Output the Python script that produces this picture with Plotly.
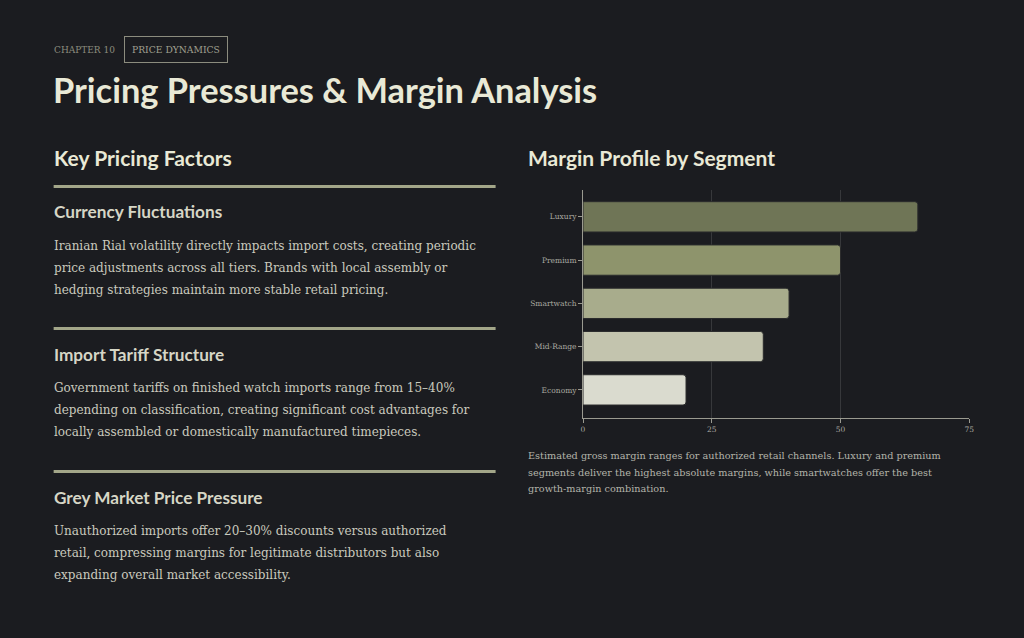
import plotly.graph_objects as go

# chart data
segments = ["Luxury", "Premium", "Smartwatch", "Mid-Range", "Economy"]
margins = [65, 50, 40, 35, 20]
bar_colors = ["#6f7556", "#8e946c", "#a8ac8c", "#c3c4ae", "#dadbcf"]
x_ticks = [0, 25, 50, 75]

# page text
chapter = "CHAPTER 10"
tag = "PRICE DYNAMICS"
title = "Pricing Pressures & Margin Analysis"
left_heading = "Key Pricing Factors"
right_heading = "Margin Profile by Segment"
factor_titles = ["Currency Fluctuations", "Import Tariff Structure", "Grey Market Price Pressure"]
factor_lines = [
    ["Iranian Rial volatility directly impacts import costs, creating periodic",
     "price adjustments across all tiers. Brands with local assembly or",
     "hedging strategies maintain more stable retail pricing."],
    ["Government tariffs on finished watch imports range from 15\u201340%",
     "depending on classification, creating significant cost advantages for",
     "locally assembled or domestically manufactured timepieces."],
    ["Unauthorized imports offer 20\u201330% discounts versus authorized",
     "retail, compressing margins for legitimate distributors but also",
     "expanding overall market accessibility."],
]
caption_lines = [
    "Estimated gross margin ranges for authorized retail channels. Luxury and premium",
    "segments deliver the highest absolute margins, while smartwatches offer the best",
    "growth-margin combination.",
]

W, H = 1024, 638
BG = "#1b1c20"
CREAM = "#e9e9d6"
SANS = "Lato"
SERIF = "DejaVu Serif"
LEFT = 50  # left text edge (annotation pad included)


def py(px):
    # pixel from top -> paper y
    return 1 - px / H


def px_x(px):
    return px / W


fig = go.Figure()

fig.add_trace(
    go.Bar(
        x=margins,
        y=segments,
        orientation="h",
        marker=dict(color=bar_colors, cornerradius=3, line=dict(color="#2a2b2c", width=1)),
        width=0.7,
        hovertemplate="%{y}: %{x}%<extra></extra>",
    )
)

ann = []
# header
ann.append(dict(x=px_x(LEFT), y=py(50), text=chapter, xanchor="left", yanchor="middle",
                font=dict(family=SERIF, size=9, color="#8c8c7e")))
ann.append(dict(x=px_x(175), y=py(50), text=tag, xanchor="center", yanchor="middle",
                font=dict(family=SERIF, size=9.2, color="#a0a090"),
                bordercolor="#8c8c7e", borderwidth=1, borderpad=7))
ann.append(dict(x=px_x(LEFT - 1), y=py(90), text="<b>" + title + "</b>", xanchor="left", yanchor="middle",
                font=dict(family=SANS, size=34.4, color=CREAM)))
ann.append(dict(x=px_x(LEFT), y=py(157), text="<b>" + left_heading + "</b>", xanchor="left", yanchor="middle",
                font=dict(family=SANS, size=21, color=CREAM)))
ann.append(dict(x=px_x(528), y=py(157), text="<b>" + right_heading + "</b>", xanchor="left", yanchor="middle",
                font=dict(family=SANS, size=21, color=CREAM)))

shapes = []
rule_y = [186, 328, 471]
for i, (ft, lines) in enumerate(zip(factor_titles, factor_lines)):
    top = rule_y[i]
    shapes.append(dict(type="line", xref="paper", yref="paper", x0=px_x(52), x1=px_x(497),
                       y0=py(top + 0.5), y1=py(top + 0.5), line=dict(color="#a3a689", width=3)))
    ann.append(dict(x=px_x(LEFT), y=py(top + 26), text="<b>" + ft + "</b>", xanchor="left", yanchor="middle",
                    font=dict(family=SANS, size=17.2, color="#d6d6c6")))
    for j, ln in enumerate(lines):
        ann.append(dict(x=px_x(LEFT), y=py(top + 60 + 22 * j), text=ln, xanchor="left", yanchor="middle",
                        font=dict(family=SERIF, size=12, color="#cacabe")))

for j, ln in enumerate(caption_lines):
    ann.append(dict(x=px_x(528), y=py(455 + 17 * j), text=ln, xanchor="left", yanchor="middle",
                    font=dict(family=SERIF, size=9.7, color="#b4b4aa")))

for a in ann:
    a.update(xref="paper", yref="paper", showarrow=False)

tick_font = dict(family=SERIF, size=7.5, color="#aaaaa0")

fig.update_layout(
    width=W,
    height=H,
    margin=dict(l=0, r=0, t=0, b=0),
    paper_bgcolor=BG,
    plot_bgcolor=BG,
    showlegend=False,
    annotations=ann,
    shapes=shapes,
    xaxis=dict(
        domain=[px_x(585), px_x(974)],
        range=[0, 75],
        tickvals=x_ticks,
        showgrid=True,
        gridcolor="#37383b",
        gridwidth=1,
        zeroline=False,
        showline=True,
        linecolor="#9a9a90",
        linewidth=1,
        ticks="outside",
        ticklen=4,
        tickcolor="#9a9a90",
        tickfont=tick_font,
        fixedrange=True,
    ),
    yaxis=dict(
        domain=[py(418), py(190)],
        categoryorder="array",
        categoryarray=segments[::-1],
        range=[-0.65, 4.62],
        showgrid=False,
        zeroline=False,
        showline=True,
        linecolor="#9a9a90",
        linewidth=1,
        ticks="outside",
        ticklen=4,
        tickcolor="#9a9a90",
        tickfont=tick_font,
        fixedrange=True,
    ),
)

fig.write_html(
    "out.html",
    config={"displayModeBar": False},
    post_script="document.body.style.margin='0';document.body.style.background='" + BG + "';",
)
